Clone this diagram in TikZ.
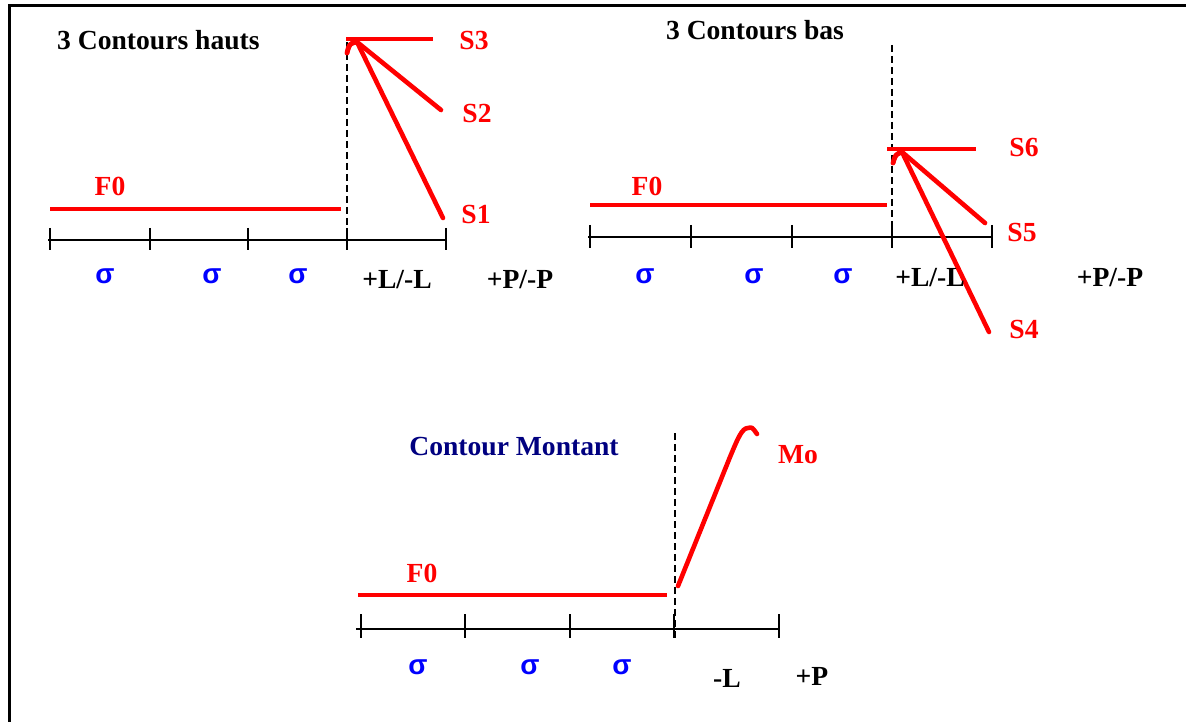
\documentclass[tikz,border=0pt]{standalone}
\usepackage{fontspec}
\setmainfont{Liberation Serif}
\newfontfamily\sigfont{Liberation Sans}
\begin{document}
\begin{tikzpicture}[x=1pt,y=-1pt,
  lbl/.style={font=\fontsize{27.6}{30}\selectfont\bfseries, inner sep=0pt},
  redlbl/.style={lbl, text=red},
  sig/.style={font=\sigfont\fontsize{28}{30}\selectfont\bfseries, inner sep=0pt, text=blue},
  navylbl/.style={lbl, text={rgb,255:red,0;green,0;blue,128}},
  f0line/.style={red, line width=4.6pt},
  axisline/.style={black, line width=1.8pt},
  vdash/.style={black, line width=1.4pt, dash pattern=on 7pt off 4pt},
  contour/.style={red, line width=4.6pt, line cap=round, line join=round}]
\useasboundingbox (0,0) rectangle (1186,722);
% frame (top and left edges visible)
\draw[black, line width=3pt] (1186,6) -- (9,6) -- (9,722);

% ---------------- Panel 1: 3 Contours hauts ----------------
\node[lbl, anchor=west] (t1) at (57,40) {3 Contours hauts};
\node[redlbl] (f01) at (110,186) {F0};
\coordinate (a1s) at (50,209); \coordinate (a1e) at (341,209);
\draw[f0line] (a1s) -- (a1e);
\coordinate (ax1s) at (48,240); \coordinate (ax1e) at (446,240);
\draw[axisline] (ax1s) -- (ax1e);
\foreach \x in {50,150,248,347,446} \draw[axisline] (\x,228) -- (\x,250);
\coordinate (d1t) at (347,42); \coordinate (d1b) at (347,240);
\draw[vdash] (d1t) -- (d1b);
\coordinate (s3a) at (346,39); \coordinate (s3b) at (433,39);
\draw[f0line] (s3a) -- (s3b);
\coordinate (h1) at (347,53); \coordinate (ap1) at (357,42);
\coordinate (s2e) at (441,110); \coordinate (s1e) at (443,218);
\draw[contour] (h1) .. controls (349,44) .. (ap1) -- (s2e);
\draw[contour] (h1) .. controls (350,43) .. (ap1) -- (s1e);
\node[redlbl] (S3) at (474,40) {S3};
\node[redlbl] (S2) at (477,113) {S2};
\node[redlbl] (S1) at (476,214) {S1};
\node[sig] (g11) at (105,276) {σ};
\node[sig] (g12) at (212,276) {σ};
\node[sig] (g13) at (298,276) {σ};
\node[lbl] (L1) at (397,280) {+L/-L};
\node[lbl] (P1) at (520,280) {+P/-P};

% ---------------- Panel 2: 3 Contours bas ----------------
\node[lbl] (t2) at (755,30) {3 Contours bas};
\node[redlbl] (f02) at (647,186) {F0};
\coordinate (a2s) at (590,205); \coordinate (a2e) at (887,205);
\draw[f0line] (a2s) -- (a2e);
\coordinate (ax2s) at (588,237); \coordinate (ax2e) at (993,237);
\draw[axisline] (ax2s) -- (ax2e);
\foreach \x in {590,691,792,892,992} \draw[axisline] (\x,225) -- (\x,248);
\coordinate (d2t) at (892,45); \coordinate (d2b) at (892,248);
\draw[vdash] (d2t) -- (d2b);
\coordinate (s6a) at (887,149); \coordinate (s6b) at (976,149);
\draw[f0line] (s6a) -- (s6b);
\coordinate (h2) at (893,163); \coordinate (ap2) at (902,152);
\coordinate (s5e) at (985,223); \coordinate (s4e) at (989,332);
\draw[contour] (h2) .. controls (895,155) .. (ap2) -- (s5e);
\draw[contour] (h2) .. controls (896,154) .. (ap2) -- (s4e);
\node[redlbl] (S6) at (1024,147) {S6};
\node[redlbl] (S5) at (1022,232) {S5};
\node[redlbl] (S4) at (1024,329) {S4};
\node[sig] (g21) at (645,276) {σ};
\node[sig] (g22) at (754,276) {σ};
\node[sig] (g23) at (843,276) {σ};
\node[lbl] (L2) at (930,278) {+L/-L};
\node[lbl] (P2) at (1110,278) {+P/-P};

% ---------------- Panel 3: Contour Montant ----------------
\node[navylbl] (t3) at (514,447) {Contour Montant};
\node[redlbl] (f03) at (422,573) {F0};
\coordinate (a3s) at (358,595); \coordinate (a3e) at (667,595);
\draw[f0line] (a3s) -- (a3e);
\coordinate (ax3s) at (356,629); \coordinate (ax3e) at (779,629);
\draw[axisline] (ax3s) -- (ax3e);
\foreach \x in {361,465,570,674,779} \draw[axisline] (\x,614) -- (\x,638);
\coordinate (d3t) at (675,433); \coordinate (d3b) at (675,640);
\draw[vdash] (d3t) -- (d3b);
\coordinate (m0) at (678,586); \coordinate (m1) at (730,457);
\coordinate (mtop) at (748,428); \coordinate (mend) at (757,434);
\draw[contour] (m0) -- (m1) .. controls (738,438) and (742,428) .. (mtop) .. controls (752,427) .. (mend);
\node[redlbl] (Mo) at (798,455) {Mo};
\node[sig] (g31) at (418,667) {σ};
\node[sig] (g32) at (530,667) {σ};
\node[sig] (g33) at (622,667) {σ};
\node[lbl] (L3) at (727,678) {-L};
\node[lbl] (P3) at (812,676) {+P};
\end{tikzpicture}
\end{document}
